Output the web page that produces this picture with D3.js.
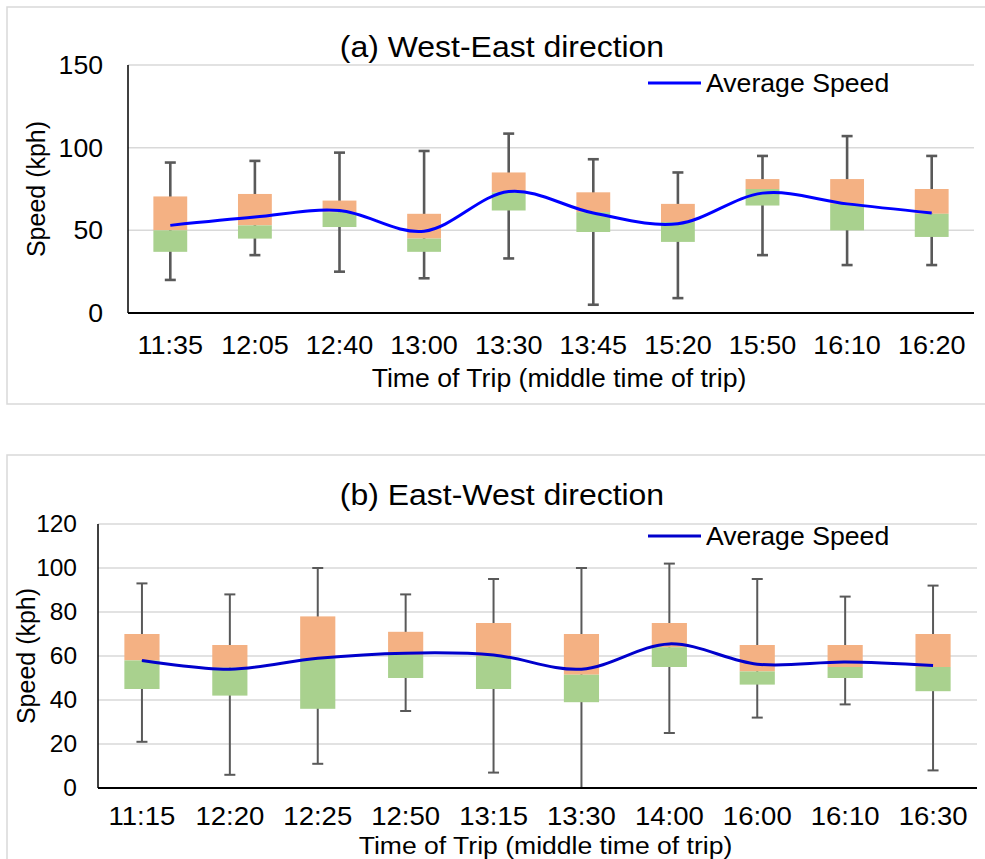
<!DOCTYPE html>
<html lang="en">
    <head>
        <meta charset="UTF-8" />
        <title>Speed by time of trip</title>
        <style>
            body { margin: 0; background: #fff; }
            svg text { font-family: "Liberation Sans", Arial, sans-serif; fill: #000; }
        </style>
    </head>
    <body>
        <script src="https://d3js.org/d3.v7.min.js"></script>
        <svg id="chart" width="985" height="859"></svg>
        <script>
            // (a) West-East direction
            const weTimes = ['11:35', '12:05', '12:40', '13:00', '13:30', '13:45', '15:20', '15:50', '16:10', '16:20'];
            const weMax = [91, 92, 97, 98, 108.5, 93, 85, 95, 107, 95];
            const weQ3 = [70.5, 72, 68, 60, 85, 73, 66, 81, 81, 75];
            const weMedian = [50, 53, 61, 45, 73, 61, 55, 75, 66, 60];
            const weQ1 = [37, 45, 52, 37, 62, 49, 43, 65, 50, 46];
            const weMin = [20, 35, 25, 21, 33, 5, 9, 35, 29, 29];
            const weAvg = [53, 58, 62, 49.5, 73.5, 60.5, 54, 72.5, 66, 60.5];
            const weTicks = [0, 50, 100, 150];

            // (b) East-West direction
            const ewTimes = ['11:15', '12:20', '12:25', '12:50', '13:15', '13:30', '14:00', '16:00', '16:10', '16:30'];
            const ewMax = [93, 88, 100, 88, 95, 100, 102, 95, 87, 92];
            const ewQ3 = [70, 65, 78, 71, 75, 70, 75, 65, 65, 70];
            const ewMedian = [58, 54.7, 59, 60.5, 60, 51.5, 64, 53, 55, 55];
            const ewQ1 = [45, 42, 36, 50, 45, 39, 55, 47, 50, 44];
            const ewMin = [21, 6, 11, 35, 7, 0, 25, 32, 38, 8];
            const ewAvg = [58, 54, 59, 61.3, 60.5, 54, 65.5, 56.3, 57.3, 55.7];
            const ewTicks = [0, 20, 40, 60, 80, 100, 120];

            const svg = d3.select('#chart');
            // the source picture is slightly wider than tall, stretch text a bit
            const stretch = 1.065;

            function drawPanel(p) {
                const g = svg.append('g');

                // outer frame
                g.append('rect')
                    .attr('x', p.frame[0]).attr('y', p.frame[1])
                    .attr('width', p.frame[2]).attr('height', p.frame[3])
                    .attr('fill', 'none').attr('stroke', '#d9d9d9').attr('stroke-width', 1.5);

                const x = d3.scaleBand().domain(p.times).range([p.left, p.right]).padding(0);
                const y = d3.scaleLinear().domain([0, p.ticks[p.ticks.length - 1]]).range([p.bottom, p.top]);
                const bw = x.bandwidth() * 0.4;
                const cx = (t) => x(t) + x.bandwidth() / 2;

                // gridlines
                g.append('g').selectAll('line')
                    .data(p.ticks.slice(1))
                    .join('line')
                    .attr('x1', p.left).attr('x2', p.right)
                    .attr('y1', (d) => y(d)).attr('y2', (d) => y(d))
                    .attr('stroke', '#d9d9d9').attr('stroke-width', 1.5);

                const rows = p.times.map((t, i) => ({
                    t, max: p.max[i], q3: p.q3[i], med: p.med[i], q1: p.q1[i], min: p.min[i], avg: p.avg[i]
                }));

                // whiskers
                const wg = g.append('g').attr('stroke', '#595959').attr('stroke-width', p.whisker);
                wg.selectAll('.stem').data(rows).join('line')
                    .attr('x1', (d) => cx(d.t)).attr('x2', (d) => cx(d.t))
                    .attr('y1', (d) => y(d.max)).attr('y2', (d) => y(d.min));
                wg.selectAll('.capt').data(rows).join('line')
                    .attr('x1', (d) => cx(d.t) - 5.5).attr('x2', (d) => cx(d.t) + 5.5)
                    .attr('y1', (d) => y(d.max)).attr('y2', (d) => y(d.max));
                wg.selectAll('.capb').data(rows).join('line')
                    .attr('x1', (d) => cx(d.t) - 5.5).attr('x2', (d) => cx(d.t) + 5.5)
                    .attr('y1', (d) => y(d.min)).attr('y2', (d) => y(d.min));

                // boxes: upper part orange, lower part green
                g.append('g').selectAll('rect').data(rows).join('rect')
                    .attr('x', (d) => cx(d.t) - bw / 2).attr('width', bw)
                    .attr('y', (d) => y(d.q3)).attr('height', (d) => y(d.med) - y(d.q3))
                    .attr('fill', '#f4b183');
                g.append('g').selectAll('rect').data(rows).join('rect')
                    .attr('x', (d) => cx(d.t) - bw / 2).attr('width', bw)
                    .attr('y', (d) => y(d.med)).attr('height', (d) => y(d.q1) - y(d.med))
                    .attr('fill', '#a9d18e');

                // average speed line (smoothed)
                const line = d3.line()
                    .x((d) => cx(d.t)).y((d) => y(d.avg))
                    .curve(d3.curveCardinal.tension(0));
                g.append('path').datum(rows)
                    .attr('d', line)
                    .attr('fill', 'none').attr('stroke', p.lineColor).attr('stroke-width', 3);

                // axes lines
                g.append('line')
                    .attr('x1', p.left).attr('x2', p.left).attr('y1', p.top).attr('y2', p.bottom)
                    .attr('stroke', '#000').attr('stroke-width', 1.5);
                g.append('line')
                    .attr('x1', p.left).attr('x2', p.right).attr('y1', p.bottom).attr('y2', p.bottom)
                    .attr('stroke', '#000').attr('stroke-width', 2);

                // y tick labels
                g.append('g').selectAll('text').data(p.ticks).join('text')
                    .attr('transform', (d) => `translate(${p.yLabelX},${y(d)}) scale(${stretch},1)`)
                    .attr('dy', '0.36em')
                    .attr('text-anchor', 'end')
                    .style('font-size', p.yTickSize + 'px')
                    .text((d) => d);

                // x tick labels
                g.append('g').selectAll('text').data(p.times).join('text')
                    .attr('transform', (d) => `translate(${cx(d)},${p.xLabelY}) scale(1.08,1)`)
                    .attr('text-anchor', 'middle')
                    .style('font-size', p.xTickSize + 'px')
                    .text((d) => d);

                // axis titles
                g.append('text')
                    .attr('transform', `translate(${(p.left + p.right) / 2 + 8},${p.xTitleY}) scale(${p.xTitleStretch},1)`)
                    .attr('text-anchor', 'middle').style('font-size', p.xTitleSize + 'px')
                    .text('Time of Trip (middle time of trip)');
                g.append('text')
                    .attr('transform', `translate(${p.yTitleX},${(p.top + p.bottom) / 2}) rotate(-90)`)
                    .attr('text-anchor', 'middle').style('font-size', '25px')
                    .text('Speed (kph)');

                // chart title
                g.append('text')
                    .attr('transform', `translate(502,${p.titleY}) scale(${stretch},1)`)
                    .attr('text-anchor', 'middle').style('font-size', '30px')
                    .text(p.title);

                // legend
                g.append('line')
                    .attr('x1', 648).attr('x2', 701).attr('y1', p.legendY).attr('y2', p.legendY)
                    .attr('stroke', p.lineColor).attr('stroke-width', 3);
                g.append('text')
                    .attr('transform', `translate(706,${p.legendY + 9}) scale(1.045,1)`)
                    .style('font-size', '25.5px')
                    .text('Average Speed');
            }

            drawPanel({
                title: '(a) West-East direction',
                times: weTimes, max: weMax, q3: weQ3, med: weMedian, q1: weQ1, min: weMin, avg: weAvg,
                ticks: weTicks,
                frame: [7, 7, 990, 397],
                left: 128, right: 974, top: 65, bottom: 313,
                yLabelX: 103, xLabelY: 354, xTitleY: 387, yTitleX: 45, titleY: 57,
                xTitleSize: 25, xTitleStretch: stretch,
                yTickSize: 25, xTickSize: 25,
                legendY: 83, lineColor: '#0000ff', whisker: 2.6
            });

            drawPanel({
                title: '(b) East-West direction',
                times: ewTimes, max: ewMax, q3: ewQ3, med: ewMedian, q1: ewQ1, min: ewMin, avg: ewAvg,
                ticks: ewTicks,
                frame: [7, 455, 990, 420],
                left: 98, right: 977, top: 524, bottom: 788,
                yLabelX: 77, xLabelY: 825, xTitleY: 854, yTitleX: 35, titleY: 505,
                xTitleSize: 23.5, xTitleStretch: 1.13,
                yTickSize: 23, xTickSize: 25.5,
                legendY: 536, lineColor: '#0000cc', whisker: 2
            });
        </script>
    </body>
</html>
